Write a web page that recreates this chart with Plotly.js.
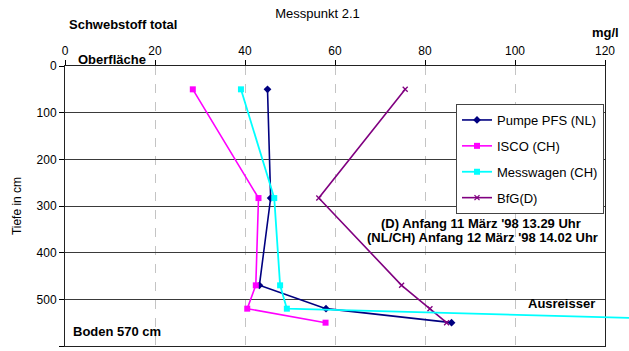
<!DOCTYPE html>
<html>
<head>
<meta charset="utf-8">
<script src="https://cdn.plot.ly/plotly-3.0.1.min.js"></script>
<style>html,body{margin:0;padding:0;background:#fff;}#chart{width:629px;height:351px;}</style>
</head>
<body>
<div id="chart"></div>
<script>
// Depth (cm) of each sample
var depth = [50, 283, 470, 520, 550];
// Suspended solids (mg/l) per measuring device
var pumpePFS = [45.0, 45.7, 43.2, 58.0, 85.9];
var isco = [28.4, 43.0, 42.4, 40.5, 57.9];
var messwagen = [39.1, 46.5, 47.8, 49.3, 165];
var bfg = [75.6, 56.4, 74.8, 81.1, 84.8];
var seriesNames = ['Pumpe PFS (NL)', 'ISCO (CH)', 'Messwagen (CH)', 'BfG(D)'];
var xTicks = [0, 20, 40, 60, 80, 100, 120];
var yTicks = [0, 100, 200, 300, 400, 500, 600];

var FONT = 'Liberation Sans, Arial, sans-serif';
var W = 629, H = 351, L = 65, R = 0, T = 66, B = 5;
var plotW = W - L - R;          // 564
var pxPerUnit = 540 / 120;      // axis 0..120 spans 540 px
var mainFrac = 540 / plotW;

function px(xp) { return (xp - L) / plotW; }
function py(yp) { return (H - B - yp) / (H - T - B); }

var traces = [
  {x: pumpePFS, y: depth, name: seriesNames[0], type: 'scatter', mode: 'lines+markers',
   line: {color: '#000080', width: 1.6}, marker: {symbol: 'diamond', size: 6, color: '#000080'},
   legendgroup: 'a'},
  {x: isco, y: depth, name: seriesNames[1], type: 'scatter', mode: 'lines+markers',
   line: {color: '#ff00ff', width: 1.6}, marker: {symbol: 'square', size: 6, color: '#ff00ff'},
   legendgroup: 'b'},
  {x: messwagen, y: depth, name: seriesNames[2], type: 'scatter', mode: 'lines+markers',
   xaxis: 'x2', yaxis: 'y2',
   line: {color: '#00ffff', width: 1.8}, marker: {symbol: 'square', size: 6, color: '#00ffff'},
   legendgroup: 'c'},
  {x: bfg, y: depth, name: seriesNames[3], type: 'scatter', mode: 'lines+markers',
   line: {color: '#800080', width: 1.6},
   marker: {symbol: 'x-thin-open', size: 5, color: '#800080', line: {color: '#800080', width: 1.3}},
   legendgroup: 'd'}
];

function ann(text, x, y, xanchor, bold, size) {
  return {text: bold ? '<b>' + text + '</b>' : text, x: x, y: y, xref: 'paper', yref: 'paper',
          xanchor: xanchor, yanchor: 'middle', showarrow: false,
          font: {family: FONT, size: size || 13, color: '#000'}};
}

var layout = {
  width: W, height: H,
  margin: {l: L, r: R, t: T, b: B, pad: 0},
  paper_bgcolor: '#fff', plot_bgcolor: 'rgba(0,0,0,0)',
  font: {family: FONT, size: 12, color: '#000'},
  title: {text: 'Messpunkt 2.1', font: {family: FONT, size: 13, color: '#000'},
          x: 317.5 / W, xref: 'container', xanchor: 'center',
          y: 1 - 13 / H, yref: 'container', yanchor: 'middle'},
  xaxis: {domain: [0, mainFrac], range: [0, 120], side: 'top', anchor: 'y',
          tickmode: 'array', tickvals: xTicks, ticktext: xTicks.map(String),
          ticks: 'outside', ticklen: 5, tickcolor: '#000', tickwidth: 1,
          showline: true, linecolor: '#222', linewidth: 1, mirror: true,
          showgrid: true, gridcolor: '#c4c4c4', griddash: 'dash', gridwidth: 1,
          zeroline: false, tickfont: {family: FONT, size: 12, color: '#000'}},
  yaxis: {domain: [0, 1], range: [600, 0], anchor: 'x',
          tickmode: 'array', tickvals: yTicks, ticktext: yTicks.map(String),
          ticks: 'outside', ticklen: 5, tickcolor: '#000', tickwidth: 1,
          showline: true, linecolor: '#222', linewidth: 1, mirror: true,
          showgrid: true, gridcolor: '#3a3a3a', gridwidth: 1,
          zeroline: false, tickfont: {family: FONT, size: 12, color: '#000'},
          title: {text: 'Tiefe in cm', font: {family: FONT, size: 12, color: '#000'}, standoff: 12}},
  xaxis2: {domain: [0, 1], range: [0, plotW / pxPerUnit], anchor: 'y2', visible: false,
           showgrid: false, zeroline: false},
  yaxis2: {domain: [0, 1], range: [600, 0], anchor: 'x2', visible: false,
           showgrid: false, zeroline: false},
  showlegend: true,
  legend: {x: px(604), y: py(104), xanchor: 'right', yanchor: 'top',
           bgcolor: '#fff', bordercolor: '#444', borderwidth: 1,
           font: {family: FONT, size: 13, color: '#000'},
           traceorder: 'grouped', tracegroupgap: 6},
  annotations: [
    ann('Schwebstoff total', px(67), py(24), 'left', true),
    ann('mg/l', px(605.5), py(33), 'center', true),
    ann('Oberfläche', px(76), py(59), 'left', true),
    ann('Boden 570 cm', px(70.7), py(331.7), 'left', true),
    ann('Ausreisser', px(597.3), py(303.3), 'right', true),
    ann("(D) Anfang 11 März '98 13.29 Uhr", px(480.5), py(223), 'center', true),
    ann("(NL/CH) Anfang 12 März '98 14.02 Uhr", px(482.5), py(237.5), 'center', true)
  ]
};

Plotly.newPlot('chart', traces, layout, {staticPlot: true, displayModeBar: false});
</script>
</body>
</html>
